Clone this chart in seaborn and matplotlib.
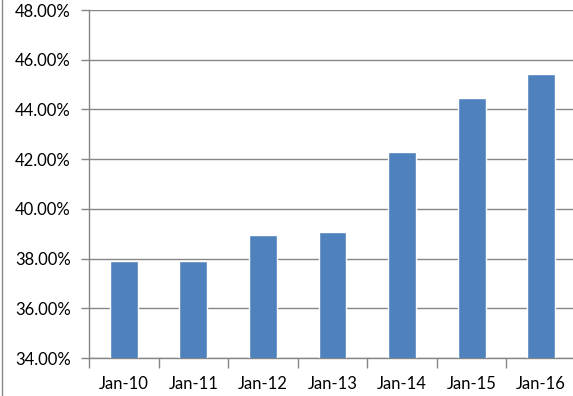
import matplotlib
matplotlib.use("Agg")
import matplotlib.pyplot as plt
from matplotlib.lines import Line2D
from matplotlib.ticker import FixedLocator, FuncFormatter
import seaborn as sns
import pandas as pd

categories = ["Jan-10", "Jan-11", "Jan-12", "Jan-13", "Jan-14", "Jan-15", "Jan-16"]
values = [37.9, 37.9, 38.94, 39.08, 42.29, 44.46, 45.44]
y_ticks = [34, 36, 38, 40, 42, 44, 46, 48]

sns.set_theme(style="white")
plt.rcParams['font.family'] = ['Lato', 'DejaVu Sans']

W, H = 573, 396
fig = plt.figure(figsize=(W / 100, H / 100), dpi=100)
ax = fig.add_axes([89 / W, 1 - 358 / H, (576 - 89) / W, (358 - 10) / H])

df = pd.DataFrame({"cat": categories, "val": values})
sns.barplot(data=df, x="cat", y="val", color="#4F81BD", saturation=1,
            width=0.4, ax=ax, zorder=3)

grid_c = "#868686"
ax.set_ylim(34, 48)
ax.set_xlim(-0.5, len(categories) - 0.5)
ax.set_yticks(y_ticks)
ax.yaxis.set_major_formatter(FuncFormatter(lambda v, p: f"{v:.2f}%"))
ax.yaxis.grid(True, color=grid_c, linewidth=1)
ax.set_axisbelow(True)
ax.set_xlabel("")
ax.set_ylabel("")

for s in ["top", "right"]:
    ax.spines[s].set_visible(False)
for s in ["left", "bottom"]:
    ax.spines[s].set_color(grid_c)
    ax.spines[s].set_linewidth(1)

ax.tick_params(axis="y", which="major", length=6, width=1, color=grid_c,
               direction="out", pad=7, labelsize=12, labelcolor="black", left=True)
ax.tick_params(axis="x", which="major", length=0, pad=13, labelsize=12,
               labelcolor="black")
ax.xaxis.set_minor_locator(FixedLocator([i - 0.5 for i in range(len(categories) + 1)]))
ax.tick_params(axis="x", which="minor", length=7, width=1, color=grid_c,
               direction="out", bottom=True)

fig.add_artist(Line2D([1.5 / W, 1.5 / W], [0, 1], transform=fig.transFigure,
                      color=grid_c, linewidth=1))

fig.savefig("out.png", dpi=100)
